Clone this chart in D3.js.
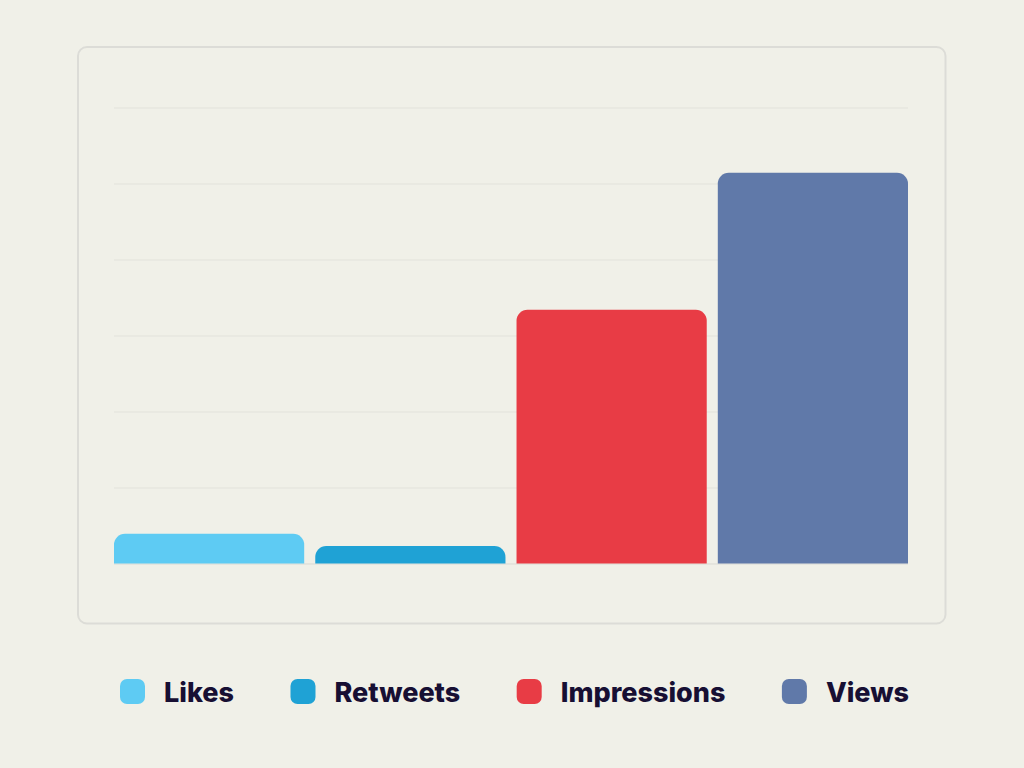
<!DOCTYPE html>
<html><head><meta charset="utf-8">
<script src="https://cdn.jsdelivr.net/npm/d3@7"></script>
<style>
html,body{margin:0;padding:0;background:#f0f0e8;}
svg{display:block;}
</style></head>
<body>
<svg id="chart" width="1024" height="768"></svg>
<script>
const categories = ["Likes", "Retweets", "Impressions", "Views"];
const values = [390, 230, 3340, 5140];
const colors = ["#5ecbf3", "#1fa2d5", "#e83c45", "#6079a9"];
const tickValues = [0, 1000, 2000, 3000, 4000, 5000, 6000];

const svg = d3.select("#chart");
svg.append("rect").attr("width",1024).attr("height",768).attr("fill","#f0f0e8");

// panel
svg.append("rect").attr("x",78).attr("y",47).attr("width",867.5).attr("height",576.5)
  .attr("rx",9).attr("fill","#f0f0e8").attr("stroke","#dcdcd7").attr("stroke-width",2);

const x = d3.scaleBand().domain(categories).range([114, 908]).paddingInner(0.055).paddingOuter(0);
const y = d3.scaleLinear().domain([0, 6000]).range([563.5, 107.5]);

// gridlines
const grid = svg.append("g").attr("transform","translate(114,0)")
  .call(d3.axisLeft(y).tickValues(tickValues).tickSize(-794).tickFormat(""));
grid.select(".domain").remove();
grid.selectAll(".tick line").attr("stroke", d => d === 0 ? "#d9d9d3" : "#e2e2db").attr("stroke-width",1);

// bars with rounded tops
const r = 11;
function barPath(x0, y0, w, h){
  const rr = Math.min(r, h, w/2);
  return `M${x0},${y0+h}V${y0+rr}A${rr},${rr} 0 0 1 ${x0+rr},${y0}H${x0+w-rr}A${rr},${rr} 0 0 1 ${x0+w},${y0+rr}V${y0+h}Z`;
}
svg.append("g").selectAll("path").data(categories).join("path")
  .attr("d", (c,i) => barPath(x(c), y(values[i]), x.bandwidth(), y(0) - y(values[i])))
  .attr("fill", (c,i) => colors[i]);

// legend
const leg = svg.append("g");
const items = leg.selectAll("g").data(categories).join("g");
items.append("rect").attr("width",25).attr("height",25).attr("rx",7).attr("y",679)
  .attr("fill",(c,i)=>colors[i]);
items.append("text").text(d=>d).attr("x",44).attr("y",702)
  .attr("font-family","Inter, 'Open Sans', sans-serif").attr("font-weight",800)
  .attr("font-size",27).attr("fill","#170f33");
const widths = [];
items.each(function(){ widths.push(44 + d3.select(this).select("text").node().getComputedTextLength()); });
const total = d3.sum(widths), start = 120, end = 909;
const gap = (end - start - total) / (categories.length - 1);
let cx = start;
items.attr("transform", (d,i) => { const t = `translate(${cx},0)`; cx += widths[i] + gap; return t; });
</script>
</body></html>
